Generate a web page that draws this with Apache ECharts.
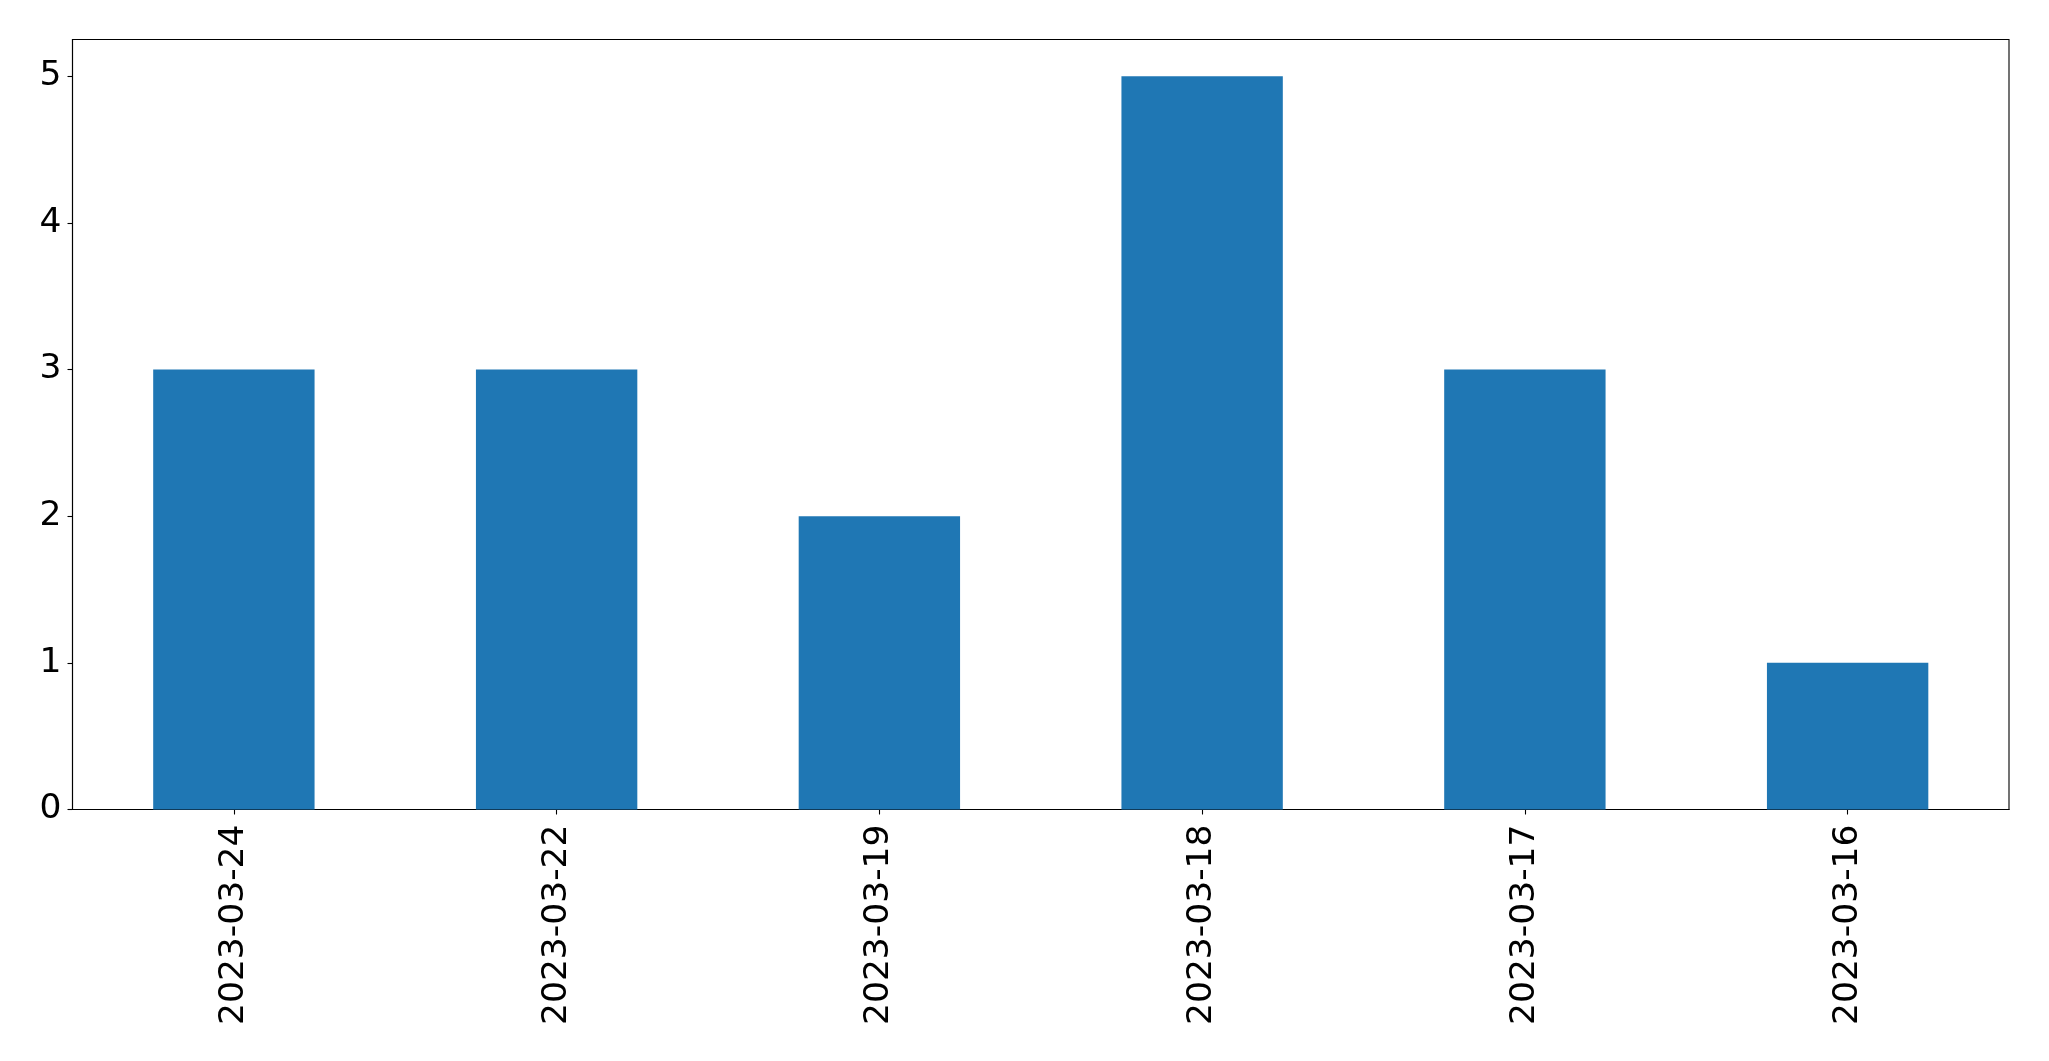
<!DOCTYPE html>
<html>
<head>
<meta charset="utf-8">
<script src="https://cdn.jsdelivr.net/npm/echarts@6/dist/echarts.min.js"></script>
<style>html,body{margin:0;padding:0;background:#fff;}#c{width:2049px;height:1061px;}</style>
</head>
<body>
<div id="c"></div>
<script>
const categories = ["2023-03-24", "2023-03-22", "2023-03-19", "2023-03-18", "2023-03-17", "2023-03-16"];
const values = [3, 3, 2, 5, 3, 1];
const yTicks = [0, 1, 2, 3, 4, 5];

const chart = echarts.init(document.getElementById('c'), null, {renderer: 'canvas'});
const font = 'DejaVu Sans';
chart.setOption({
  animation: false,
  backgroundColor: '#fff',
  grid: {left: 72.5, right: 40, top: 39.5, bottom: 251.5, show: true, borderColor: '#000', borderWidth: 1.1, backgroundColor: 'transparent'},
  xAxis: {
    type: 'category',
    data: categories,
    axisLine: {show: true, lineStyle: {color: '#000', width: 1.1}},
    axisTick: {show: true, alignWithLabel: true, length: 5, lineStyle: {color: '#000', width: 1.1}},
    axisLabel: {rotate: 90, margin: 15, color: '#000', fontSize: 34.5, fontFamily: font, interval: 0},
    splitLine: {show: false}
  },
  yAxis: {
    type: 'value',
    min: 0,
    max: 5.25,
    interval: 1,
    axisLine: {show: true, lineStyle: {color: '#000', width: 1.1}},
    axisTick: {show: true, length: 5, lineStyle: {color: '#000', width: 1.1}, customValues: yTicks},
    axisLabel: {margin: 11, color: '#000', fontSize: 34.5, fontFamily: font, customValues: yTicks},
    splitLine: {show: false}
  },
  series: [{
    type: 'bar',
    data: values,
    barWidth: '50%',
    itemStyle: {color: '#1f77b4'}
  }]
});
</script>
</body>
</html>
